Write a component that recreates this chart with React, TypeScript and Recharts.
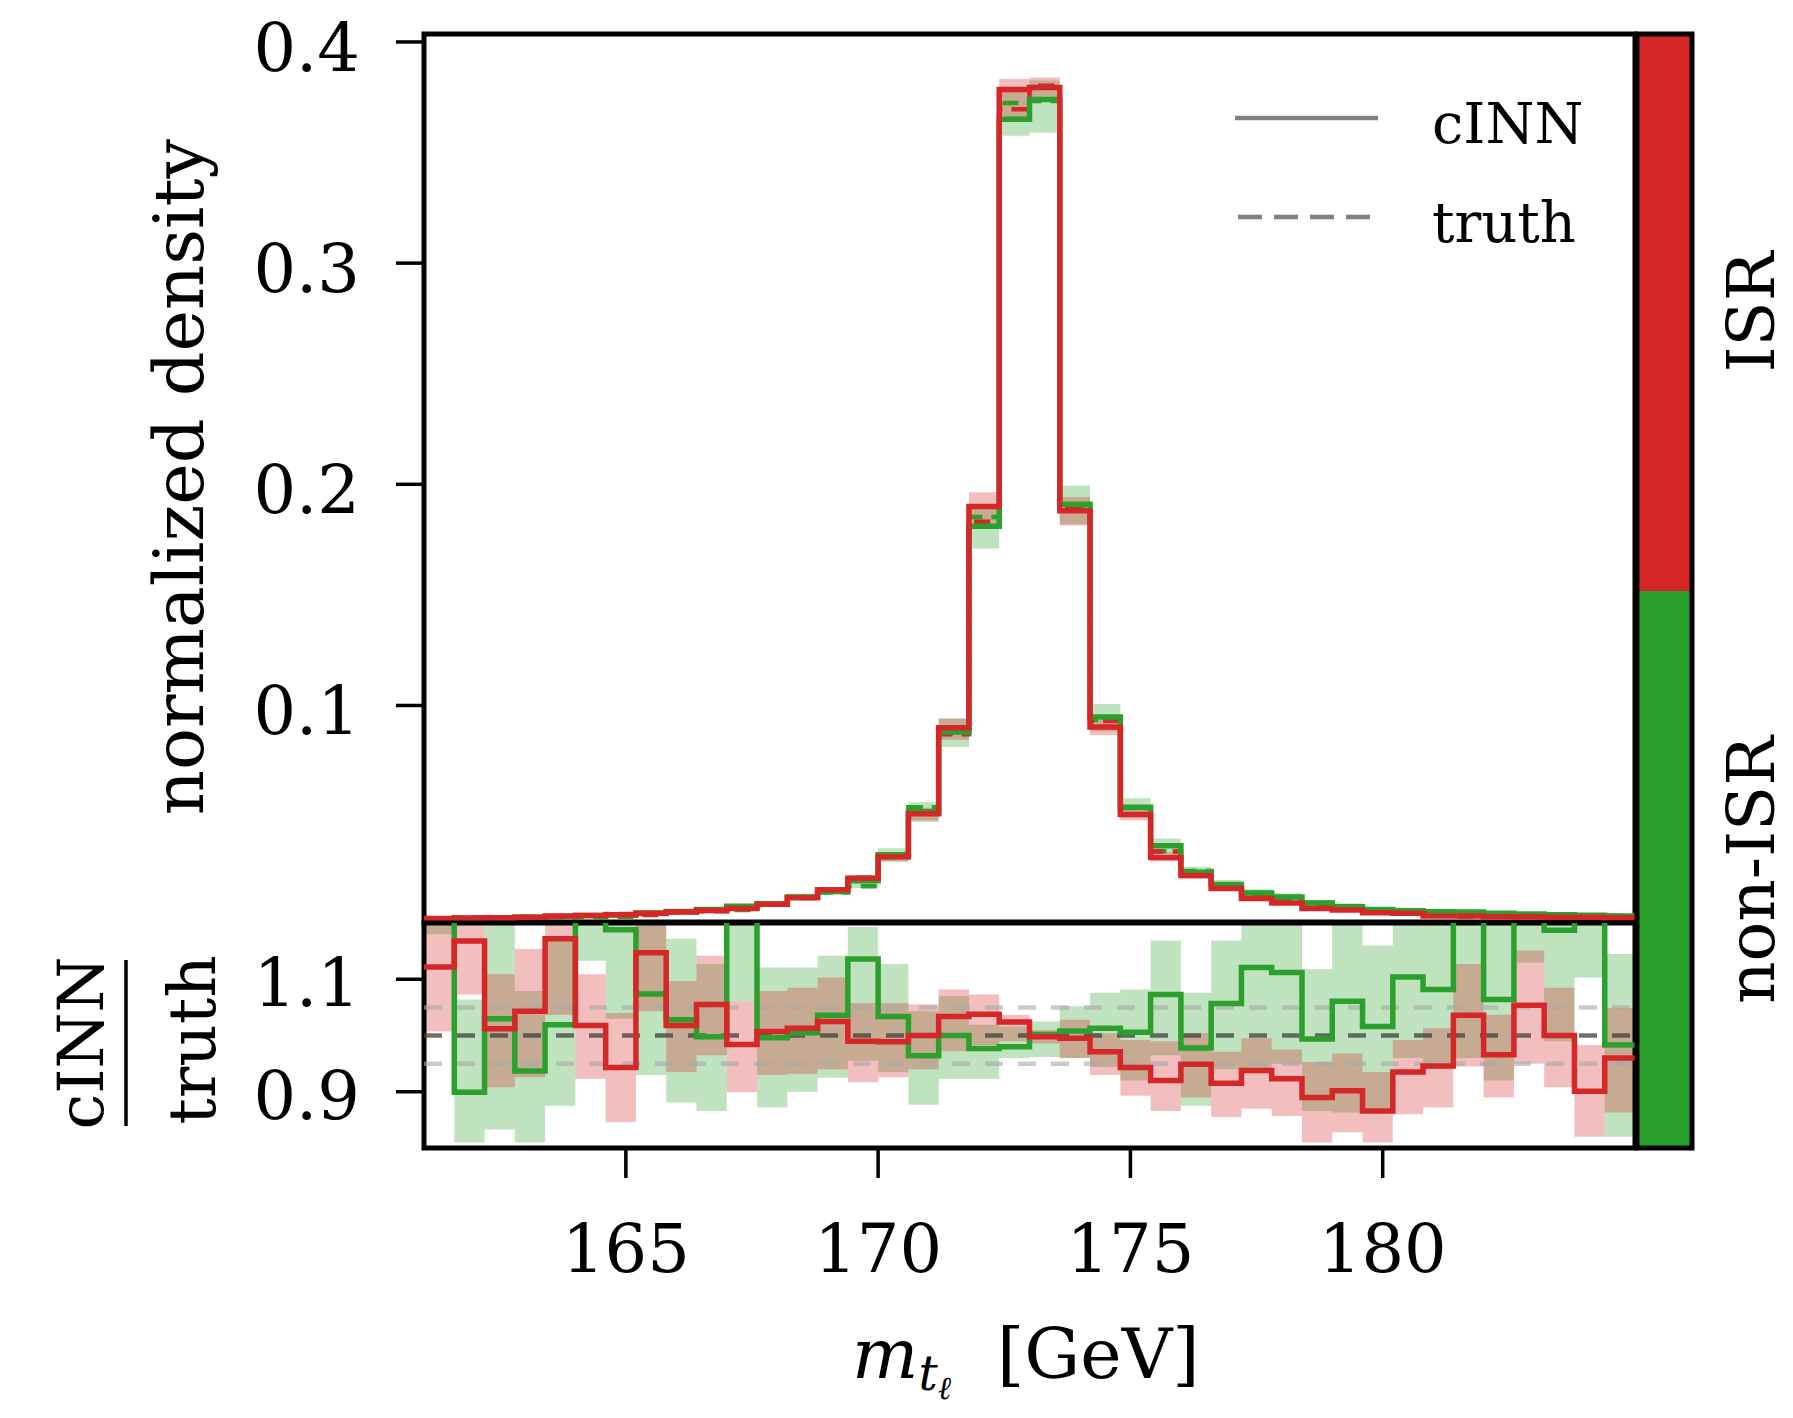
import React from "react";
import {
  ComposedChart,
  Line,
  Area,
  XAxis,
  YAxis,
  ReferenceLine,
  ReferenceArea,
} from "recharts";

const FONT = "DejaVu Serif";
const RED = "#d62728";   // ISR
const GREEN = "#2ca02c"; // non-ISR

// histogram bin edges in GeV (40 bins of 0.6 GeV)
const BIN_EDGES = [
  161.0, 161.6, 162.2, 162.8, 163.4, 164.0, 164.6, 165.2, 165.8, 166.4,
  167.0, 167.6, 168.2, 168.8, 169.4, 170.0, 170.6, 171.2, 171.8, 172.4,
  173.0, 173.6, 174.2, 174.8, 175.4, 176.0, 176.6, 177.2, 177.8, 178.4,
  179.0, 179.6, 180.2, 180.8, 181.4, 182.0, 182.6, 183.2, 183.8, 184.4, 185.0,
];

const X_TICKS = [165, 170, 175, 180];
const MAIN_Y_TICKS = [0.1, 0.2, 0.3, 0.4];
const RATIO_Y_TICKS = [0.9, 1.1];

// cINN normalized density per bin
const ISR_CINN = [
  0.0037, 0.0039, 0.004, 0.0043, 0.0048, 0.005, 0.0054, 0.006, 0.0066, 0.0073,
  0.0082, 0.0101, 0.0131, 0.0167, 0.0219, 0.0316, 0.051, 0.0899, 0.19, 0.3785,
  0.3794, 0.188, 0.0903, 0.0507, 0.0313, 0.0231, 0.0172, 0.0127, 0.0107, 0.0082,
  0.0075, 0.0063, 0.006, 0.0048, 0.0048, 0.0045, 0.0045, 0.0042, 0.0042, 0.004,
];
const NON_ISR_CINN = [
  0.0036, 0.0037, 0.0039, 0.0042, 0.0046, 0.005, 0.0053, 0.0062, 0.0068, 0.0078,
  0.0092, 0.0104, 0.0134, 0.016, 0.0208, 0.0325, 0.052, 0.088, 0.181, 0.365,
  0.374, 0.191, 0.0948, 0.054, 0.0366, 0.0246, 0.0191, 0.0152, 0.0134, 0.0107,
  0.009, 0.0078, 0.0072, 0.0067, 0.0066, 0.006, 0.0057, 0.0054, 0.0052, 0.0048,
];

// cINN / truth per bin
const ISR_RATIO = [
  1.122, 1.168, 1.012, 1.043, 1.172, 1.018, 0.943, 1.147, 1.018, 1.055,
  0.984, 1.007, 1.013, 1.025, 0.99, 0.989, 1.0, 1.034, 1.038, 1.024,
  0.998, 0.995, 0.971, 0.943, 0.92, 0.949, 0.915, 0.938, 0.923, 0.89,
  0.902, 0.866, 0.935, 0.946, 1.036, 0.966, 1.054, 1.0, 0.901, 0.96,
];
const NON_ISR_RATIO = [
  1.22, 0.899, 1.03, 0.937, 1.019, 1.21, 1.188, 1.074, 1.028, 0.998,
  1.22, 0.996, 1.005, 1.036, 1.136, 1.034, 0.964, 1.0, 0.977, 0.98,
  1.002, 1.008, 1.013, 1.006, 1.073, 0.978, 1.057, 1.121, 1.112, 0.994,
  1.061, 1.016, 1.104, 1.082, 1.22, 1.064, 1.21, 1.187, 1.22, 0.983,
];

// uncertainty band of the ratio, lower / upper edge
const ISR_RATIO_LO = [
  1.007, 1.073, 0.908, 0.926, 1.037, 0.923, 0.846, 1.043, 0.935, 0.965,
  0.899, 0.93, 0.932, 0.94, 0.917, 0.926, 0.94, 0.972, 0.983, 0.99,
  0.986, 0.96, 0.93, 0.893, 0.866, 0.89, 0.855, 0.87, 0.857, 0.81,
  0.828, 0.81, 0.86, 0.872, 0.945, 0.89, 0.95, 0.908, 0.82, 0.863,
];
const ISR_RATIO_HI = [
  1.24, 1.25, 1.109, 1.154, 1.25, 1.109, 1.04, 1.25, 1.097, 1.142,
  1.061, 1.079, 1.085, 1.103, 1.058, 1.058, 1.055, 1.082, 1.073, 1.037,
  1.01, 1.028, 1.004, 0.992, 0.99, 1.004, 0.971, 0.995, 0.975, 0.953,
  0.968, 0.935, 0.992, 1.013, 1.127, 1.037, 1.151, 1.085, 0.983, 1.049,
];
const NON_ISR_RATIO_LO = [
  1.18, 0.81, 0.833, 0.81, 0.875, 1.133, 1.03, 0.93, 0.881, 0.866,
  1.061, 0.872, 0.9, 0.925, 0.955, 0.935, 0.877, 0.923, 0.923, 0.96,
  0.962, 0.96, 0.944, 0.92, 0.965, 0.875, 0.94, 0.941, 0.95, 0.866,
  0.863, 0.869, 0.96, 0.94, 0.96, 0.92, 1.13, 0.99, 1.103, 0.82,
];
const NON_ISR_RATIO_HI = [
  1.3, 1.064, 1.25, 1.079, 1.169, 1.3, 1.25, 1.25, 1.172, 1.127,
  1.3, 1.121, 1.121, 1.142, 1.193, 1.127, 1.043, 1.07, 1.019, 1.016,
  1.025, 1.052, 1.076, 1.082, 1.169, 1.076, 1.169, 1.25, 1.25, 1.118,
  1.25, 1.16, 1.25, 1.25, 1.3, 1.25, 1.3, 1.25, 1.3, 1.145,
];

// one row per bin edge; the last edge repeats the last bin so the step closes
const rows = BIN_EDGES.map((x, i) => {
  const k = Math.min(i, ISR_CINN.length - 1);
  // truth = cINN / (cINN/truth)
  const isrTruth = ISR_CINN[k] / ISR_RATIO[k];
  const nonTruth = NON_ISR_CINN[k] / NON_ISR_RATIO[k];
  return {
    x,
    isr: ISR_CINN[k],
    nonIsr: NON_ISR_CINN[k],
    isrTruth,
    nonIsrTruth: nonTruth,
    isrBand: [isrTruth * ISR_RATIO_LO[k], isrTruth * ISR_RATIO_HI[k]],
    nonIsrBand: [nonTruth * NON_ISR_RATIO_LO[k], nonTruth * NON_ISR_RATIO_HI[k]],
    isrRatio: ISR_RATIO[k],
    nonIsrRatio: NON_ISR_RATIO[k],
    isrRatioBand: [ISR_RATIO_LO[k], ISR_RATIO_HI[k]],
    nonIsrRatioBand: [NON_ISR_RATIO_LO[k], NON_ISR_RATIO_HI[k]],
  };
});

const yTick = (offset: number) => (props: any) => (
  <text
    x={props.x}
    y={props.y + offset}
    textAnchor="end"
    fontFamily={FONT}
    fontSize={67}
    fill="#000"
  >
    {Number(props.payload.value).toFixed(1)}
  </text>
);

const xTick = (props: any) => (
  <text
    x={props.x}
    y={props.y + 94}
    textAnchor="middle"
    fontFamily={FONT}
    fontSize={67}
    fill="#000"
  >
    {props.payload.value}
  </text>
);

const tickLine = { stroke: "#000", strokeWidth: 3.5 };
const LINE_W = 5.5;

function MainPanel() {
  return (
    <ComposedChart
      width={1793}
      height={926}
      data={rows}
      margin={{ top: 34, right: 158, bottom: 4, left: 0 }}
    >
      <XAxis dataKey="x" type="number" domain={[161, 185]} allowDataOverflow hide />
      <YAxis
        type="number"
        domain={[0.0021, 0.4036]}
        allowDataOverflow
        ticks={MAIN_Y_TICKS}
        interval={0}
        width={424}
        tickSize={28}
        tickMargin={36}
        axisLine={false}
        tickLine={tickLine}
        tick={yTick(29)}
      />
      <Area dataKey="nonIsrBand" type="stepAfter" fill={GREEN} fillOpacity={0.3} stroke="none" isAnimationActive={false} />
      <Area dataKey="isrBand" type="stepAfter" fill={RED} fillOpacity={0.3} stroke="none" isAnimationActive={false} />
      <Line dataKey="nonIsrTruth" type="stepAfter" stroke={GREEN} strokeWidth={4.5} strokeDasharray="16 9" dot={false} isAnimationActive={false} />
      <Line dataKey="isrTruth" type="stepAfter" stroke={RED} strokeWidth={4.5} strokeDasharray="16 9" dot={false} isAnimationActive={false} />
      <Line dataKey="nonIsr" type="stepAfter" stroke={GREEN} strokeWidth={LINE_W} dot={false} isAnimationActive={false} />
      <Line dataKey="isr" type="stepAfter" stroke={RED} strokeWidth={LINE_W} dot={false} isAnimationActive={false} />
      <ReferenceArea x1={161} x2={185} y1={0.0021} y2={0.4036} fill="none" stroke="#000" strokeWidth={5} />
    </ComposedChart>
  );
}

function RatioPanel() {
  return (
    <ComposedChart
      width={1793}
      height={518}
      data={rows}
      margin={{ top: 23, right: 158, bottom: 0, left: 0 }}
    >
      <XAxis
        dataKey="x"
        type="number"
        domain={[161, 185]}
        allowDataOverflow
        ticks={X_TICKS}
        interval={0}
        height={270}
        tickSize={30}
        tickMargin={0}
        axisLine={false}
        tickLine={tickLine}
        tick={xTick}
      />
      <YAxis
        type="number"
        domain={[0.8, 1.2]}
        allowDataOverflow
        ticks={RATIO_Y_TICKS}
        interval={0}
        width={424}
        tickSize={28}
        tickMargin={36}
        axisLine={false}
        tickLine={tickLine}
        tick={yTick(27)}
      />
      <Area dataKey="nonIsrRatioBand" type="stepAfter" fill={GREEN} fillOpacity={0.3} stroke="none" isAnimationActive={false} />
      <Area dataKey="isrRatioBand" type="stepAfter" fill={RED} fillOpacity={0.3} stroke="none" isAnimationActive={false} />
      <ReferenceLine y={1.05} stroke="#a8a8a8" strokeOpacity={0.6} strokeWidth={4.5} strokeDasharray="18 15" />
      <ReferenceLine y={0.95} stroke="#a8a8a8" strokeOpacity={0.6} strokeWidth={4.5} strokeDasharray="18 15" />
      <ReferenceLine y={1.0} stroke="#404040" strokeOpacity={0.75} strokeWidth={4.5} strokeDasharray="18 15" />
      <Line dataKey="nonIsrRatio" type="stepAfter" stroke={GREEN} strokeWidth={LINE_W} dot={false} isAnimationActive={false} />
      <Line dataKey="isrRatio" type="stepAfter" stroke={RED} strokeWidth={LINE_W} dot={false} isAnimationActive={false} />
      <ReferenceArea x1={161} x2={185} y1={0.8} y2={1.2} fill="none" stroke="#000" strokeWidth={5} />
    </ComposedChart>
  );
}

function Decorations() {
  return (
    <svg
      width={1793}
      height={1418}
      style={{ position: "absolute", left: 0, top: 0, pointerEvents: "none" }}
      fontFamily={FONT}
    >
      {/* y axis titles */}
      <text transform="translate(203,477) rotate(-90)" textAnchor="middle" fontSize={70}>
        normalized density
      </text>
      <text transform="translate(103,1043) rotate(-90)" textAnchor="middle" fontSize={64}>
        cINN
      </text>
      <line x1={126} y1={960} x2={126} y2={1126} stroke="#000" strokeWidth={3.5} />
      <text transform="translate(215,1040) rotate(-90)" textAnchor="middle" fontSize={66}>
        truth
      </text>

      {/* x axis title */}
      <text x={852} y={1378} fontSize={70}>
        <tspan fontStyle="italic">m</tspan>
        <tspan fontStyle="italic" fontSize={48} dy={12}>t</tspan>
        <tspan fontStyle="italic" fontSize={32} dy={9}>ℓ</tspan>
        <tspan x={997} dy={-21}>[GeV]</tspan>
      </text>

      {/* legend */}
      <line x1={1235} y1={118} x2={1378} y2={118} stroke="#808080" strokeWidth={4.5} />
      <line x1={1238} y1={217} x2={1378} y2={217} stroke="#808080" strokeWidth={4.5} strokeDasharray="24 12" />
      <text x={1432} y={143} fontSize={56}>cINN</text>
      <text x={1432} y={242} fontSize={56}>truth</text>

      {/* category bar */}
      <rect x={1637} y={34} width={55} height={557} fill={RED} />
      <rect x={1637} y={591} width={55} height={557} fill={GREEN} />
      <rect x={1637} y={34} width={55} height={1114} fill="none" stroke="#000" strokeWidth={5} />
      <text transform="translate(1774,312) rotate(-90)" textAnchor="middle" fontSize={66}>
        ISR
      </text>
      <text transform="translate(1774,870) rotate(-90)" textAnchor="middle" fontSize={66}>
        non-ISR
      </text>
    </svg>
  );
}

export default function App() {
  return (
    <div style={{ position: "absolute", left: 0, top: 0, width: 1793, height: 1418, background: "#fff" }}>
      <div style={{ position: "absolute", left: 0, top: 0 }}>
        <MainPanel />
      </div>
      <div style={{ position: "absolute", left: 0, top: 900 }}>
        <RatioPanel />
      </div>
      <Decorations />
    </div>
  );
}
